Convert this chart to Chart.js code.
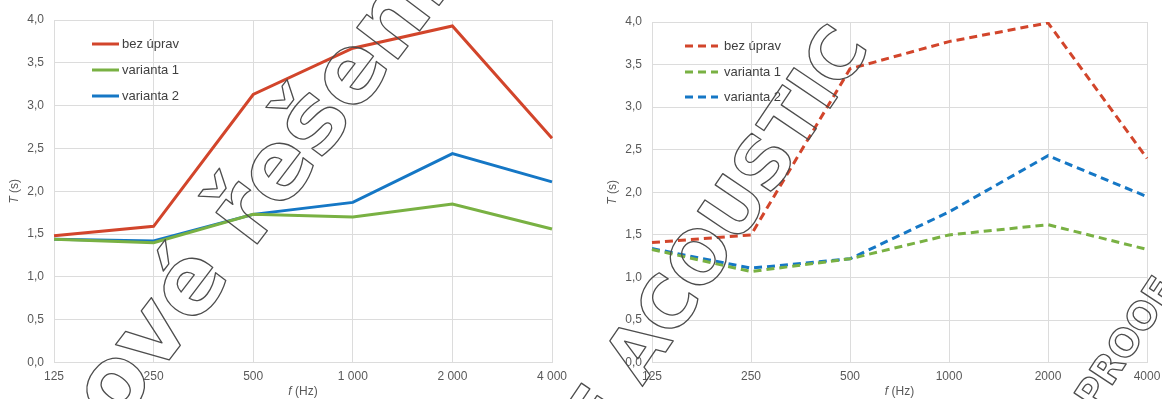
<!DOCTYPE html>
<html><head><meta charset="utf-8">
<script src="https://cdn.jsdelivr.net/npm/chart.js@4.4.0/dist/chart.umd.min.js"></script>
<style>
html,body{margin:0;padding:0;background:#fff;overflow:hidden}
#wrap{position:relative;width:1162px;height:399px}
#c1{position:absolute;left:0;top:0}
#c2{position:absolute;left:580px;top:0}
#wm{position:absolute;left:0;top:0;pointer-events:none}
</style></head><body>
<div id="wrap">
<canvas id="c1" width="580" height="399"></canvas>
<canvas id="c2" width="582" height="399"></canvas>
<canvas id="wm" width="1162" height="399"></canvas>
</div>
<script>
// ---- data ----
const categoriesLeft = ['125', '250', '500', '1 000', '2 000', '4 000'];
const categoriesRight = ['125', '250', '500', '1000', '2000', '4000'];
const seriesNames = ['bez úprav', 'varianta 1', 'varianta 2'];
const leftBezUprav = [1.48, 1.59, 3.13, 3.67, 3.93, 2.62];
const leftVarianta1 = [1.44, 1.40, 1.73, 1.70, 1.85, 1.56];
const leftVarianta2 = [1.44, 1.42, 1.73, 1.87, 2.44, 2.11];
const rightBezUprav = [1.41, 1.50, 3.45, 3.77, 3.99, 2.40];
const rightVarianta1 = [1.33, 1.07, 1.22, 1.50, 1.62, 1.33];
const rightVarianta2 = [1.34, 1.11, 1.22, 1.77, 2.43, 1.95];
const yMin = 0, yMax = 4, yStep = 0.5;
const watermarkTexts = ['nové řešení', 'E ACOUSTIC', 'PROOF'];

// ---- style ----
const COLORS = ['#d2452b', '#79b143', '#1577c5'];
const GRID = '#dcdcdc';
const TICK_COLOR = '#595959';
const FONT = "'Liberation Sans', Arial, sans-serif";

const customLegend = {
  id: 'customLegend',
  afterDatasetsDraw(chart, args, o) {
    const ctx = chart.ctx;
    ctx.save();
    chart.data.datasets.forEach((ds, i) => {
      const y = o.ys[i];
      ctx.beginPath();
      ctx.strokeStyle = ds.borderColor;
      ctx.lineWidth = ds.borderWidth;
      ctx.setLineDash(ds.borderDash || []);
      ctx.moveTo(o.x1, y); ctx.lineTo(o.x2, y);
      ctx.stroke();
      ctx.setLineDash([]);
      ctx.fillStyle = '#404040';
      ctx.font = '13px ' + FONT;
      ctx.textBaseline = 'middle';
      ctx.textAlign = 'left';
      ctx.fillText(ds.label, o.textX, y);
    });
    ctx.restore();
  }
};

const axisTitles = {
  id: 'axisTitles',
  afterDraw(chart, args, o) {
    const ctx = chart.ctx, a = chart.chartArea;
    ctx.save();
    ctx.fillStyle = TICK_COLOR;
    ctx.textBaseline = 'middle';
    ctx.textAlign = 'left';
    const it = 'italic 12px ' + FONT, nm = '12px ' + FONT;
    ctx.font = it; const w1 = ctx.measureText('f').width;
    ctx.font = nm; const w2 = ctx.measureText(' (Hz)').width;
    let x0 = (a.left + a.right) / 2 - (w1 + w2) / 2;
    ctx.font = it; ctx.fillText('f', x0, o.xTitleY);
    ctx.font = nm; ctx.fillText(' (Hz)', x0 + w1, o.xTitleY);
    ctx.translate(o.yTitleX, (a.top + a.bottom) / 2);
    ctx.rotate(-Math.PI / 2);
    ctx.font = it; const v1 = ctx.measureText('T').width;
    ctx.font = nm; const v2 = ctx.measureText(' (s)').width;
    x0 = -(v1 + v2) / 2;
    ctx.font = it; ctx.fillText('T', x0, 0);
    ctx.font = nm; ctx.fillText(' (s)', x0 + v1, 0);
    ctx.restore();
  }
};

function makeChart(id, cats, values, dashed, lay) {
  const datasets = values.map((v, i) => ({
    label: seriesNames[i],
    data: v,
    borderColor: COLORS[i],
    backgroundColor: COLORS[i],
    borderWidth: 3,
    borderDash: dashed ? [8, 5] : [],
    pointRadius: 0,
    tension: 0,
    fill: false
  }));
  return new Chart(document.getElementById(id), {
    type: 'line',
    data: { labels: cats, datasets },
    plugins: [customLegend, axisTitles],
    options: {
      responsive: false,
      animation: false,
      events: [],
      layout: { padding: { left: 0, right: lay.right, top: lay.top, bottom: 0 } },
      plugins: {
        legend: { display: false },
        tooltip: { enabled: false },
        customLegend: lay.legend,
        axisTitles: { xTitleY: 392, yTitleX: lay.yTitleX }
      },
      scales: {
        x: {
          type: 'category',
          offset: false,
          grid: { color: GRID, drawTicks: false, offset: false, lineWidth: 1 },
          border: { color: GRID },
          ticks: { color: TICK_COLOR, font: { family: FONT, size: 12 }, padding: 7, maxRotation: 0, autoSkip: false },
          afterFit(s) { s.height = lay.xHeight; s.paddingLeft = 0; s.paddingRight = 0; }
        },
        y: {
          min: yMin, max: yMax,
          grid: { color: GRID, drawTicks: false, lineWidth: 1 },
          border: { color: GRID },
          ticks: {
            stepSize: yStep, color: TICK_COLOR, font: { family: FONT, size: 12 }, padding: lay.yPad,
            callback: v => Number(v).toFixed(1).replace('.', ',')
          },
          afterFit(s) { s.width = lay.yWidth; s.paddingTop = 0; s.paddingBottom = 0; }
        }
      }
    }
  });
}

makeChart('c1', categoriesLeft, [leftBezUprav, leftVarianta1, leftVarianta2], false, {
  right: 28, top: 20, xHeight: 36.5, yWidth: 54, yPad: 10, yTitleX: 15,
  legend: { x1: 92, x2: 119, textX: 122, ys: [44, 70, 96] }
});
makeChart('c2', categoriesRight, [rightBezUprav, rightVarianta1, rightVarianta2], true, {
  right: 15, top: 22, xHeight: 36.3, yWidth: 72, yPad: 10, yTitleX: 33,
  legend: { x1: 105, x2: 138, textX: 144, ys: [46, 72, 97] }
});

// ---- outlined watermark text overlay ----
(function () {
  const ctx = document.getElementById('wm').getContext('2d');
  function drawWM(text, idx, cx, cy, deg, px, capFrac) {
    ctx.save();
    ctx.font = 'bold ' + px + "px 'DejaVu Sans', sans-serif";
    const pre = ctx.measureText(text.slice(0, idx)).width;
    const w = ctx.measureText(text[idx]).width;
    ctx.translate(cx, cy);
    ctx.rotate(deg * Math.PI / 180);
    ctx.textBaseline = 'alphabetic';
    ctx.textAlign = 'left';
    ctx.lineWidth = 1.3;
    ctx.lineJoin = 'round';
    ctx.strokeStyle = '#4d4d4d';
    ctx.strokeText(text, -(pre + w / 2), capFrac * px);
    ctx.restore();
  }
  drawWM(watermarkTexts[0], 1, 115, 387, -52.7, 95, 0.28);
  drawWM(watermarkTexts[1], 2, 636, 349, -56, 72, 0.365);
  drawWM(watermarkTexts[2], 1, 1107, 368, -56.6, 38, 0.365);
})();
</script>
</body></html>
